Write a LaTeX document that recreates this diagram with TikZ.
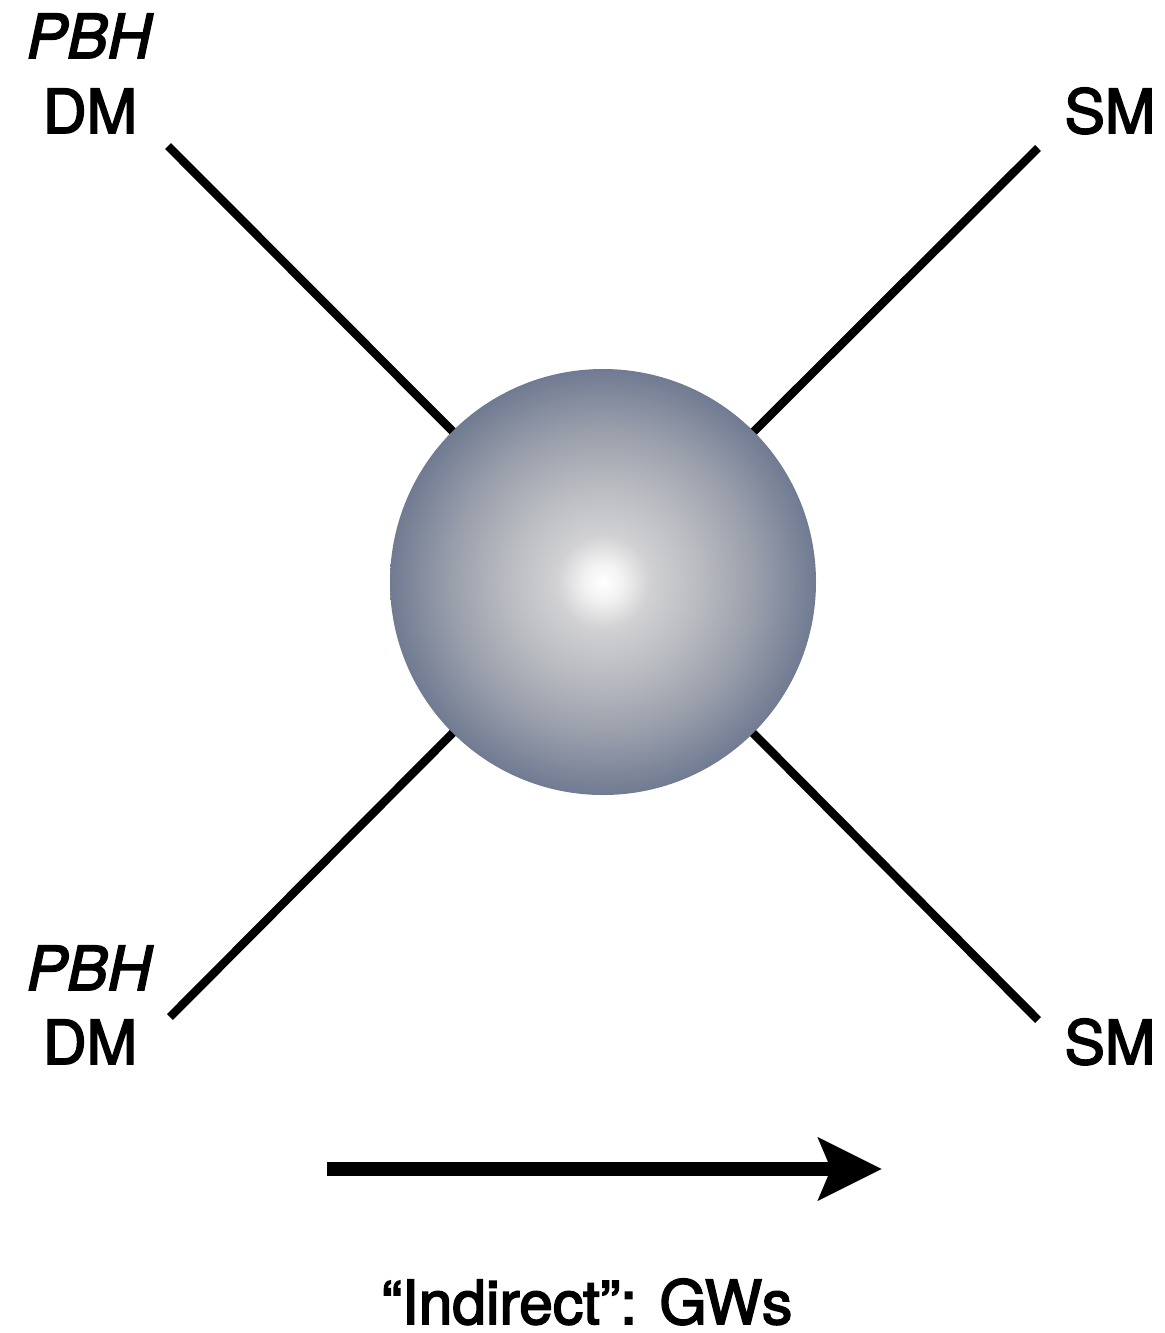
\documentclass[tikz,border=0pt]{standalone}
\usepackage{fontspec}
\setmainfont{TeX Gyre Heros}[FakeBold=2.8]
\usetikzlibrary{arrows.meta}
\definecolor{slate}{rgb}{0.44,0.48,0.57}
\definecolor{sA}{rgb}{0.95,0.95,0.95}
\definecolor{sB}{rgb}{0.82,0.82,0.83}
\definecolor{sC}{rgb}{0.72,0.73,0.75}
\definecolor{sD}{rgb}{0.60,0.62,0.67}
\pgfdeclareradialshading{pbhball}{\pgfpoint{0bp}{0bp}}{%
  color(0bp)=(white);
  color(2.2bp)=(sA);
  color(5.5bp)=(sB);
  color(11.5bp)=(sC);
  color(18bp)=(sD);
  color(25bp)=(slate);
  color(50bp)=(slate)}
\begin{document}
\begin{tikzpicture}[x=0.02cm,y=-0.02cm,
  leg/.style={line width=4.8pt},
  lbl/.style={font=\fontsize{34.5}{41}\selectfont, anchor=base, inner sep=0pt},
  ballstyle/.style={circle, minimum size=426*0.02cm, inner sep=0pt, shading=pbhball},
  flow/.style={line width=8.5pt, -{Stealth[length=36pt, width=35pt, inset=7pt]}}]
\useasboundingbox (0,0) rectangle (1165,1333);
\coordinate (c) at (603,582);
\coordinate (tl) at (168,146);
\coordinate (tr) at (1038,148);
\coordinate (bl) at (170,1017);
\coordinate (br) at (1038,1020);
\draw[leg] (tl) -- (c);
\draw[leg] (tr) -- (c);
\draw[leg] (bl) -- (c);
\draw[leg] (br) -- (c);
\node[ballstyle] (ball) at (c) {};
\node[lbl] (ltop1) at (90,58) {\textit{PBH}};
\node[lbl] (ltop2) at (90,133) {DM};
\node[lbl] (lbot1) at (90,990) {\textit{PBH}};
\node[lbl] (lbot2) at (90,1064) {DM};
\node[lbl] (rtop) at (1110,133) {SM};
\node[lbl] (rbot) at (1110,1064) {SM};
\coordinate (as) at (327,1169);
\coordinate (ae) at (882,1169);
\draw[flow] (as) -- (ae);
\node[lbl, text depth=0pt] (cap) at (587,1324) {“Indirect”: GWs};
\end{tikzpicture}
\end{document}
